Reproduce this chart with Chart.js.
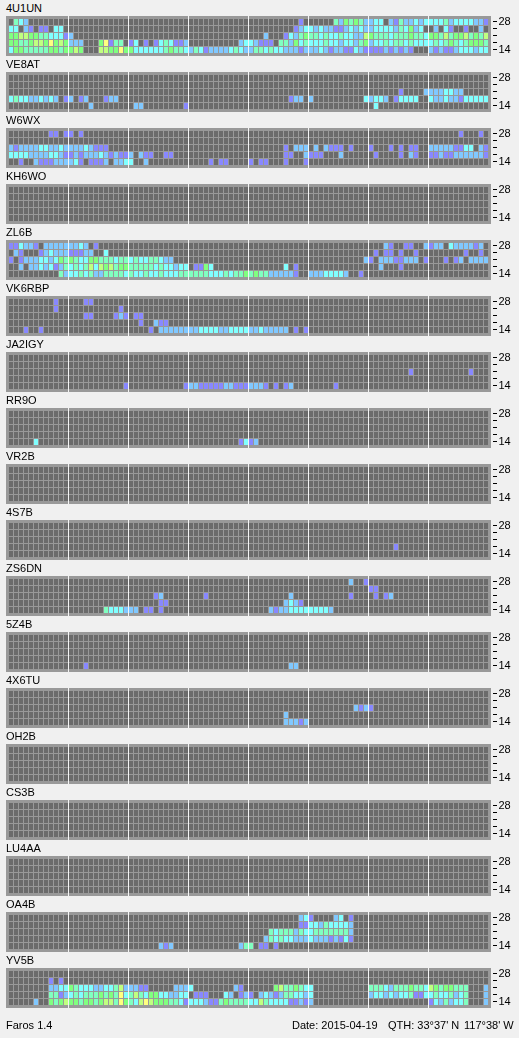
<!DOCTYPE html>
<html>
<head>
<meta charset="utf-8">
<title>Faros</title>
<style>
html,body{margin:0;padding:0;background:#f0f0f0;overflow:hidden}
#wrap{position:relative;width:519px;height:1038px;font:11px "Liberation Sans",Arial,sans-serif;color:#000}
canvas{position:absolute;left:0}
.t{position:absolute;white-space:pre;line-height:13px}
</style>
</head>
<body>
<div id="wrap"></div>
<script src="https://cdn.jsdelivr.net/npm/chart.js@4"></script>
<script>
// Levels: . none, 1 weakest ... 7 strongest. Each row: 8 groups of 12 quarter-hour columns ("_" = 12 empty).
const BAND_TICKS = ["14", "", "", "", "28"];
const LEVEL_COLORS = ["#6b6b6b", "#8888ff", "#80c8ff", "#80ffff", "#80ffc0", "#80ff80", "#c0ff80", "#ffff80"];
const STATIONS = ["4U1UN","VE8AT","W6WX","KH6WO","ZL6B","VK6RBP","JA2IGY","RR9O","VR2B","4S7B","ZS6DN","5Z4B","4X6TU","OH2B","CS3B","LU4AA","OA4B","YV5B"];

// rows listed top to bottom: 28, 24, 21, 18, 14 MHz
const S_4U1UN = [
 ".432........ _ _ _ ..........1. .....4254542 233.21422323 333423333221",
 "33.21.11.33. _ _ _ .........123 323221123232 23333243523. .2.31..1..2.",
 "556655443331 2........... _ _ ...2...13245 443433433226 544434445443 554645564546",
 "554456657565 222...57144. 13.1.1343112 ..........23 32111.442534 333433233245 233434434333 343454345554",
 "355444445545 565...665575 533333345443 243122223432 244343322212 223212211321 111212121... 212112333233"];
const S_VE8AT = [
 "", "",
 "_ _ _ _ _ _ ......1....2 2223322.....",
 "3433223232.1 2.12...122.. _ _ ........122. 2..........3 2332.13333.. 322322133333",
 "_ ....2....... .22........1 _ _ _ .3.......... _"];
const S_W6WX = [
 "........11.1 1.1......... _ _ _ _ _ ......1...1.",
 "",
 "212222332232 22232111.... _ _ .......1.222 .2.2111.1... 1...1.1.11.. 222221133.21",
 "333322223321 121222321211 2.211..11... _ .......11..2 111...2..... .1....1.21.. 112112222221",
 "..1..2111222 231.1112.223 3..2........ ....1.11.... 1.11...1...1 _ _ _"];
const S_KH6WO = ["", "", "", "", ""];
const S_ZL6B = [
 "113221.22222 2232.1...... _ _ _ _ ...21..11..2 122.3222212.",
 ".21...123222 11122..3.... _ _ _ _ .1.11.1..1.. .......1..1.",
 "1.1222332354 543355444344 343344322... _ _ ...........2 1.22211222.1 ...1.12.2222",
 "..2.22323124 343463656455 444443433233 .1153....... .......3.1.. _ ..2...1..... _",
 "..........42 334342244443 433433433344 444433343445 4544222221.. 22233332..1. _ _"];
const S_VK6RBP = [
 ".........1.. ...11....... _ _ _ _ _ _",
 ".........1.. ..........1. _ _ _ _ _ _",
 "_ ...11....121 .11......... _ _ _ _ _",
 "_ _ ..1..211.... _ _ _ _ _",
 "...1..1..... _ ....1.222222 223333223333 22322222.1.1 _ _ _"];
const S_JA2IGY = [
 "", "",
 "_ _ _ _ _ _ ........1... ........1...",
 "",
 "_ ...........1 ...........1 221111122111 2221.1.12... .....1...... _ _"];
const S_RR9O = [
 "", "", "", "",
 ".....3...... _ _ ..........13 12.......... _ _ _"];
const S_VR2B = ["", "", "", "", ""];
const S_4S7B = [
 "", "", "",
 "_ _ _ _ _ _ .....1...... _",
 ""];
const S_ZS6DN = [
 "_ _ _ _ _ ........2..1 _ _",
 "_ _ _ _ _ _ 11.......... _",
 "_ _ .....12..... ...1........ ........2... ........1... .1.12....... _",
 "_ _ ......11.... _ .......2321. _ _ _",
 "_ .......43332 22.11.1..... _ ....21223333 33332....... _ _"];
const S_5Z4B = [
 "", "", "", "",
 "_ ...1........ _ _ ........22.. _ _ _"];
const S_4X6TU = [
 "", "",
 "_ _ _ _ _ .........212 1........... _",
 "_ _ _ _ .......2.... _ _ _",
 "_ _ _ _ .......22212 _ _ _"];
const S_OH2B = ["", "", "", "", ""];
const S_CS3B = ["", "", "", "", ""];
const S_LU4AA = ["", "", "", "", ""];
const S_OA4B = [
 "_ _ _ _ ..........23 1....23.1... _ _",
 "_ _ _ _ ..........11 332433332... _ _",
 "_ _ _ _ ....43444243 344444442... _ _",
 "_ _ _ _ ...243433222 322212131... _ _",
 "_ _ ......212... ..........24 4.11.1...... _ _ _"];
const S_YV5B = [
 "",
 "........1.1. _ _ _ _ _ _ _",
 "........2233 543332233462 2211.....222 3........21. .....5644543 3........... 444324445443 65455444...2",
 "........4412 343444545473 464355332233 .111...32.12 1.2321244332 3........... 233232334113 34334234...2",
 ".....2..5456 554554566475 436765554431 333211454444 336433331121 2........... _ 13242334...2"];

const ALL_ROWS = [S_4U1UN,S_VE8AT,S_W6WX,S_KH6WO,S_ZL6B,S_VK6RBP,S_JA2IGY,S_RR9O,S_VR2B,S_4S7B,S_ZS6DN,S_5Z4B,S_4X6TU,S_OH2B,S_CS3B,S_LU4AA,S_OA4B,S_YV5B];

function parseRow(s){
  const flat = s.split(" ").map(g => g === "_" ? "............" : g).join("").padEnd(96, ".");
  return flat.slice(0,96).split("").map(c => c === "." ? 0 : +c);
}
const COLUMNS = Array.from({length:96}, (_, i) => i);

const panelPlugin = {
  id: "panel",
  beforeDatasetsDraw(chart){
    const {ctx, chartArea:a} = chart;
    ctx.save();
    ctx.fillStyle = "#999999";
    ctx.fillRect(a.left-2.5, a.top-3, a.width+5, a.height+5);
    ctx.restore();
  },
  afterDatasetsDraw(chart){
    const {ctx, chartArea:a, scales:{x, y}} = chart;
    ctx.save();
    ctx.fillStyle = "#f4f4f4";
    for(let i=12;i<96;i+=12){
      ctx.fillRect(x.getPixelForValue(i)-3, a.top-3, 1, a.height+5);
    }
    ctx.fillStyle = "#000";
    y.ticks.forEach((t,i)=>{
      ctx.fillRect(a.right+4.5, Math.round(y.getPixelForTick(i))-1, 4, 1);
    });
    ctx.restore();
  }
};

const wrap = document.getElementById("wrap");
STATIONS.forEach((name, idx) => {
  const top = idx*56;
  const label = document.createElement("div");
  label.className = "t";
  label.textContent = name;
  label.style.left = "6px";
  label.style.top = (top+2)+"px";
  wrap.appendChild(label);

  const cv = document.createElement("canvas");
  cv.width = 519; cv.height = 72;
  cv.style.top = top+"px";
  cv.style.width = "519px"; cv.style.height = "72px";
  wrap.appendChild(cv);

  const rows = ALL_ROWS[idx].map(parseRow);
  const datasets = rows.map((levels, k) => {
    const r = 4-k;
    return {
      data: levels.map(() => [r+1/7, r+1]),
      backgroundColor: levels.map(v => LEVEL_COLORS[v]),
      barPercentage: 1,
      categoryPercentage: 1,
      maxBarThickness: 4,
      inflateAmount: 0,
      borderWidth: 0,
      borderSkipped: false,
      grouped: false
    };
  });

  new Chart(cv, {
    type: "bar",
    data: {labels: COLUMNS, datasets},
    plugins: [panelPlugin],
    options: {
      responsive: false,
      animation: false,
      devicePixelRatio: 1,
      layout: {padding: {left: 8.5, right: 0, top: 19, bottom: 18}},
      plugins: {legend: {display:false}, tooltip: {enabled:false}, title: {display:false}},
      scales: {
        x: {display:false},
        y: {
          position: "right",
          min: 0, max: 5,
          grid: {display:false, drawTicks:false},
          border: {display:false},
          afterBuildTicks(s){ s.ticks = BAND_TICKS.map((_,r)=>({value:r+4/7})); },
          afterFit(s){ s.width = 30.5; },
          ticks: {
            autoSkip:false, padding:10, color:"#000",
            font:{family:'"Liberation Sans", Arial, sans-serif', size:11},
            callback(v,i){ return BAND_TICKS[i]; }
          }
        }
      }
    }
  });
});

[["Faros 1.4",6],["Date: 2015-04-19",292],["QTH: 33°37' N",388],["117°38' W",464]].forEach(([s,x])=>{
  const d = document.createElement("div");
  d.className = "t";
  d.textContent = s;
  d.style.left = x+"px";
  d.style.top = "1019px";
  wrap.appendChild(d);
});
</script>
</body>
</html>
